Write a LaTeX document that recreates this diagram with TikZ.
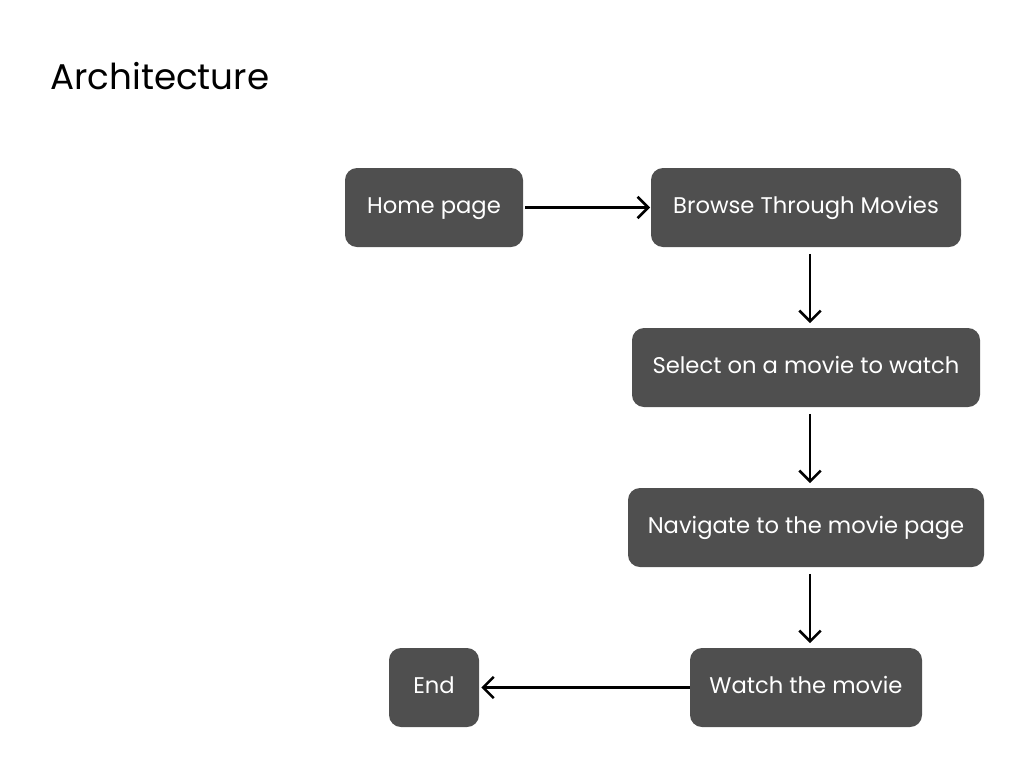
\documentclass[tikz,border=0pt]{standalone}
\usepackage{fontspec}
\setmainfont{Poppins}
\usetikzlibrary{arrows.meta}
\definecolor{boxgray}{HTML}{4F4F4F}
\tikzset{
  px/.style={x=0.75pt,y=-0.75pt},
  stepbox/.style={fill=boxgray,rounded corners=9pt,text=white,font=\fontsize{17}{20}\selectfont,inner sep=0pt,text height=0.95em,text depth=0pt,minimum height=79*0.75pt,anchor=center},
  flow/.style={line width=1.9pt,-{Straight Barb[length=8pt,width=16pt,line width=1.9pt]}}
}
\begin{document}
\begin{tikzpicture}[px]
\useasboundingbox (0,0) rectangle (1024,768);
\node[anchor=base west,inner sep=0pt,font=\fontsize{26.8}{32}\selectfont] (title) at (50,89) {Architecture};
\node[stepbox,minimum width=178*0.75pt] (home) at (434,207.5) {Home page};
\node[stepbox,minimum width=310*0.75pt] (browse) at (806,207.5) {Browse Through Movies};
\node[stepbox,minimum width=348*0.75pt] (select) at (806,367.5) {Select on a movie to watch};
\node[stepbox,minimum width=356*0.75pt] (nav) at (806,527.5) {Navigate to the movie page};
\node[stepbox,minimum width=232*0.75pt] (watch) at (806,687.5) {Watch the movie};
\node[stepbox,minimum width=90*0.75pt] (end) at (434,687.5) {End};
\draw[flow] ([xshift=1.5pt]home.east) -- ([xshift=-0.5pt]browse.west);
\draw[flow] ([xshift=3pt,yshift=-5pt]browse.south) -- ([xshift=3pt,yshift=3.5pt]select.north);
\draw[flow] ([xshift=3pt,yshift=-5pt]select.south) -- ([xshift=3pt,yshift=3.5pt]nav.north);
\draw[flow] ([xshift=3pt,yshift=-5pt]nav.south) -- ([xshift=3pt,yshift=3.5pt]watch.north);
\draw[flow] (watch.west) -- ([xshift=1.5pt]end.east);
\end{tikzpicture}
\end{document}
